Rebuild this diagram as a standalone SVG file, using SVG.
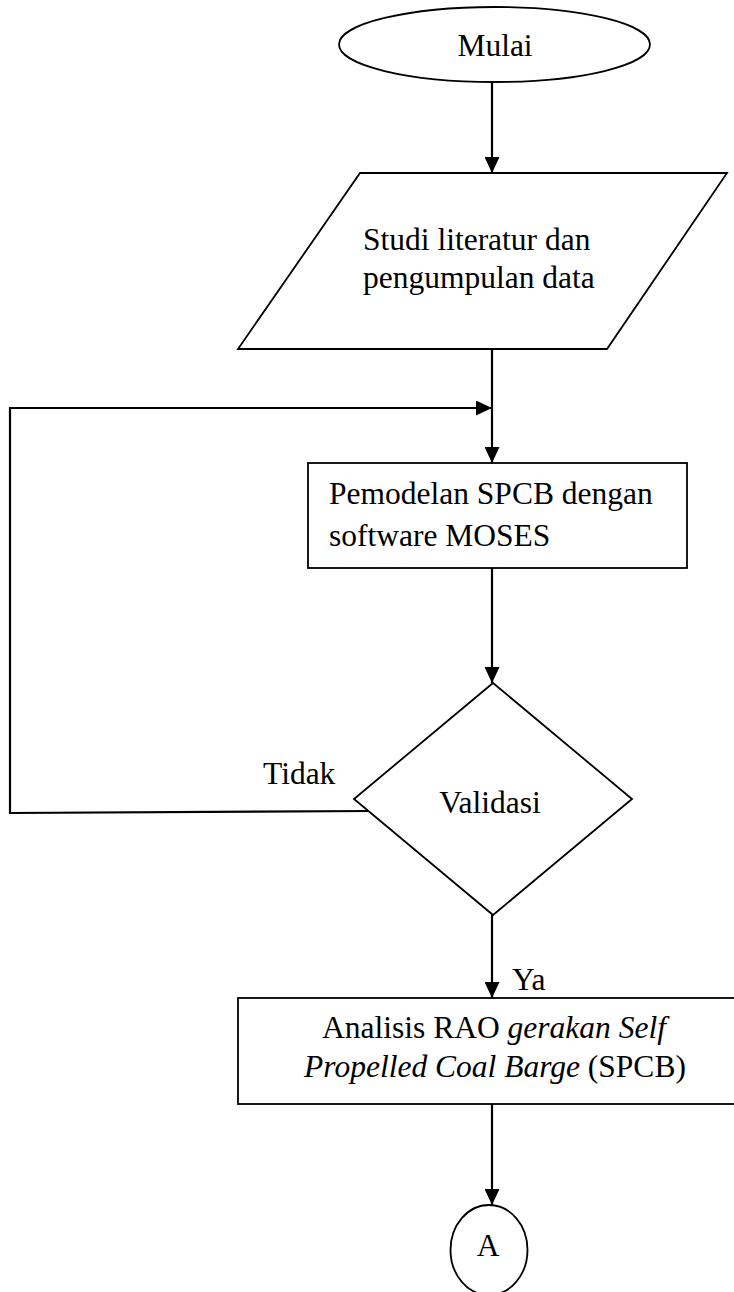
<svg xmlns="http://www.w3.org/2000/svg" width="734" height="1292" viewBox="0 0 734 1292">
<style>
.shape{fill:#fff;stroke:#000;stroke-width:1.8}
.conn{fill:none;stroke:#000;stroke-width:2.2}
.t{font-family:"Liberation Serif","Times New Roman",serif;font-size:31.5px;fill:#000}
.i{font-style:italic}
</style>
<defs>
<marker id="arr" markerUnits="userSpaceOnUse" markerWidth="16" markerHeight="15" refX="16" refY="7.5" orient="auto">
<path d="M0,0 L16,7.5 L0,15 z" fill="#000"/>
</marker>
</defs>
<rect width="734" height="1292" fill="#fff"/>
<g id="connectors">
<line class="conn" x1="492" y1="82" x2="492" y2="173" marker-end="url(#arr)"/>
<line class="conn" x1="492" y1="349" x2="492" y2="463" marker-end="url(#arr)"/>
<polyline class="conn" points="372,811 10,813 10,408 492,408" marker-end="url(#arr)"/>
<line class="conn" x1="492" y1="568" x2="492" y2="683" marker-end="url(#arr)"/>
<line class="conn" x1="492" y1="915" x2="492" y2="998" marker-end="url(#arr)"/>
<line class="conn" x1="492" y1="1104" x2="492" y2="1205" marker-end="url(#arr)"/>
</g>
<g id="mulai">
<ellipse class="shape" cx="494.5" cy="44.5" rx="155.5" ry="37.5"/>
<text class="t" x="495" y="56" text-anchor="middle">Mulai</text>
</g>
<g id="studi">
<polygon class="shape" points="360,173 727,173 607,349 238,349"/>
<text class="t" x="363" y="250">Studi literatur dan</text>
<text class="t" x="363" y="288">pengumpulan data</text>
</g>
<g id="pemodelan">
<rect class="shape" x="308" y="463" width="379" height="105"/>
<text class="t" x="329" y="504">Pemodelan SPCB dengan</text>
<text class="t" x="329" y="546">software MOSES</text>
</g>
<g id="validasi">
<polygon class="shape" points="493,683 632,799 493,915 354,799"/>
<text class="t" x="490" y="813" text-anchor="middle">Validasi</text>
</g>
<g id="label-tidak">
<text class="t" x="263" y="784">Tidak</text>
</g>
<g id="label-ya">
<text class="t" x="512" y="990">Ya</text>
</g>
<g id="analisis">
<rect class="shape" x="238" y="998" width="514" height="106"/>
<text class="t" x="494" y="1038" text-anchor="middle">Analisis RAO <tspan class="i">gerakan Self</tspan></text>
<text class="t" x="495" y="1077" text-anchor="middle"><tspan class="i">Propelled Coal Barge</tspan> (SPCB)</text>
</g>
<g id="connector-a">
<ellipse class="shape" cx="489" cy="1250" rx="38.5" ry="45"/>
<text class="t" x="488" y="1256" text-anchor="middle">A</text>
</g>
</svg>
